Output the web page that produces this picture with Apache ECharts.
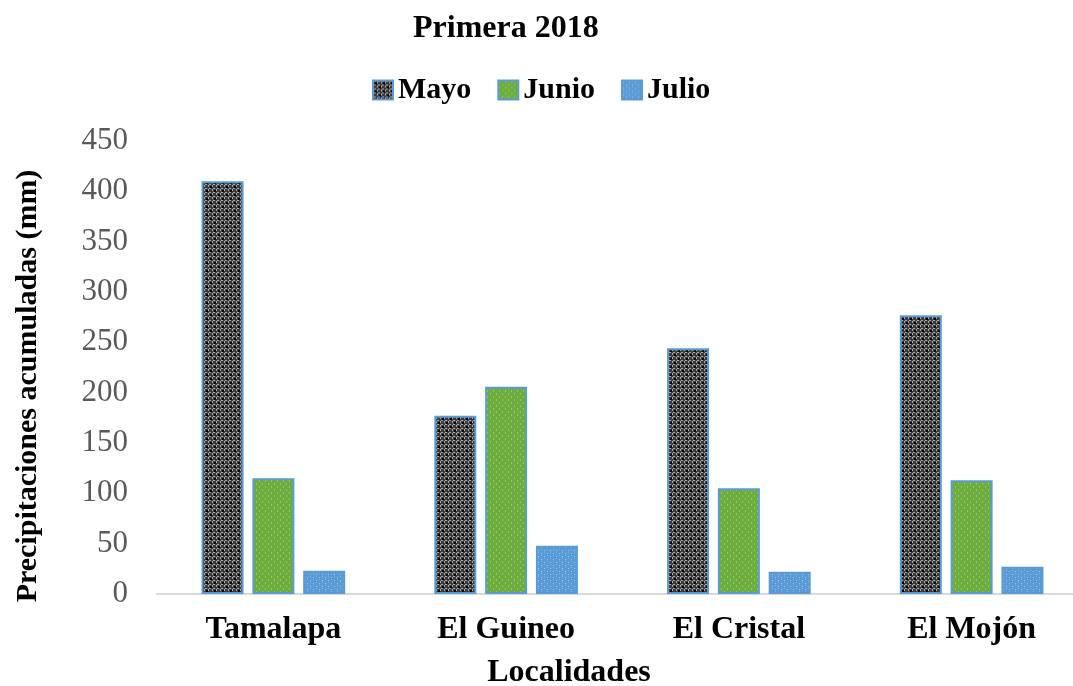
<!DOCTYPE html>
<html>
<head>
<meta charset="utf-8">
<title>Primera 2018</title>
<script src="https://cdn.jsdelivr.net/npm/echarts@6/dist/echarts.min.js"></script>
<style>
  html, body { margin: 0; padding: 0; background: #fff; }
  #chart { width: 1073px; height: 686px; }
</style>
</head>
<body>
<div id="chart"></div>
<script>
// data
var localidades = ['Tamalapa', 'El Guineo', 'El Cristal', 'El Mojón']
var meses = ['Mayo', 'Junio', 'Julio']
var mayo = [410, 177, 244, 277]
var junio = [115, 206, 105, 113]
var julio = [23, 48, 22, 27]
var yTicks = [0, 50, 100, 150, 200, 250, 300, 350, 400, 450]

var FONT = '"Liberation Serif", "Times New Roman", serif'
var BORDER = '#5B9BD5'

// small tiles for the fill patterns
function tile(size, draw) {
  var c = document.createElement('canvas')
  c.width = size
  c.height = size
  draw(c.getContext('2d'))
  return { image: c, repeat: 'repeat' }
}

var mayoFill = tile(8, function (g) {
  g.fillStyle = '#3c3c3c'
  g.fillRect(0, 0, 8, 8)
  g.fillStyle = '#a6a6a6'
  g.fillRect(0, 1, 1, 2)
  g.fillRect(0, 5, 1, 2)
  g.fillRect(4, 1, 1, 2)
  g.fillRect(4, 5, 1, 2)
  g.fillRect(1, 0, 2, 1)
  g.fillRect(5, 0, 2, 1)
  g.fillRect(1, 4, 2, 1)
  g.fillRect(5, 4, 2, 1)
  g.fillStyle = '#000'
  g.fillRect(2, 2, 2, 2)
  g.fillRect(6, 6, 2, 2)
})

var junioFill = tile(6, function (g) {
  g.fillStyle = '#6fac3f'
  g.fillRect(0, 0, 6, 6)
  g.fillStyle = '#8dc95a'
  g.fillRect(1, 0, 1, 2)
  g.fillRect(4, 3, 1, 2)
})

var julioFill = tile(6, function (g) {
  g.fillStyle = '#5b9bd5'
  g.fillRect(0, 0, 6, 6)
  g.fillStyle = '#9cc4ea'
  g.fillRect(1, 1, 1, 1)
  g.fillRect(4, 4, 1, 1)
  g.fillStyle = '#7fb2e2'
  g.fillRect(1, 3, 1, 1)
  g.fillRect(4, 0, 1, 1)
})

var chart = echarts.init(document.getElementById('chart'))

function barSeries(name, data, fill) {
  return {
    name: name,
    type: 'bar',
    data: data,
    barWidth: 42,
    barGap: '21%',
    itemStyle: {
      color: fill,
      borderColor: BORDER,
      borderWidth: 2
    }
  }
}

chart.setOption({
  animation: false,
  title: {
    text: 'Primera 2018',
    left: 408,
    top: 8,
    textStyle: { fontFamily: FONT, fontSize: 32, fontWeight: 'bold', color: '#000' }
  },
  legend: {
    data: meses,
    left: 372,
    top: 75,
    padding: 0,
    icon: 'rect',
    itemWidth: 20,
    itemHeight: 19,
    itemGap: 26,
    textStyle: { fontFamily: FONT, fontSize: 30, fontWeight: 'bold', color: '#000' }
  },
  grid: {
    left: 157,
    top: 141,
    width: 931,
    height: 453,
    outerBoundsMode: 'none'
  },
  xAxis: {
    type: 'category',
    data: localidades,
    axisLine: { lineStyle: { color: '#d9d9d9', width: 2 } },
    axisTick: { show: false },
    axisLabel: {
      margin: 20,
      fontFamily: FONT,
      fontSize: 32,
      fontWeight: 'bold',
      color: '#000'
    }
  },
  yAxis: {
    type: 'value',
    min: yTicks[0],
    max: yTicks[yTicks.length - 1],
    interval: yTicks[1] - yTicks[0],
    splitLine: { show: false },
    axisLine: { show: false },
    axisTick: { show: false },
    axisLabel: {
      margin: 29,
      fontFamily: FONT,
      fontSize: 31,
      color: '#595959'
    }
  },
  graphic: [
    {
      type: 'text',
      x: 28,
      y: 386,
      rotation: Math.PI / 2,
      style: {
        text: 'Precipitaciones acumuladas (mm)',
        font: 'bold 30px ' + FONT,
        fill: '#000',
        align: 'center',
        verticalAlign: 'middle'
      }
    },
    {
      type: 'text',
      x: 569,
      y: 673,
      style: {
        text: 'Localidades',
        font: 'bold 32px ' + FONT,
        fill: '#000',
        align: 'center',
        verticalAlign: 'middle'
      }
    }
  ],
  series: [
    barSeries(meses[0], mayo, mayoFill),
    barSeries(meses[1], junio, junioFill),
    barSeries(meses[2], julio, julioFill)
  ]
})
</script>
</body>
</html>
